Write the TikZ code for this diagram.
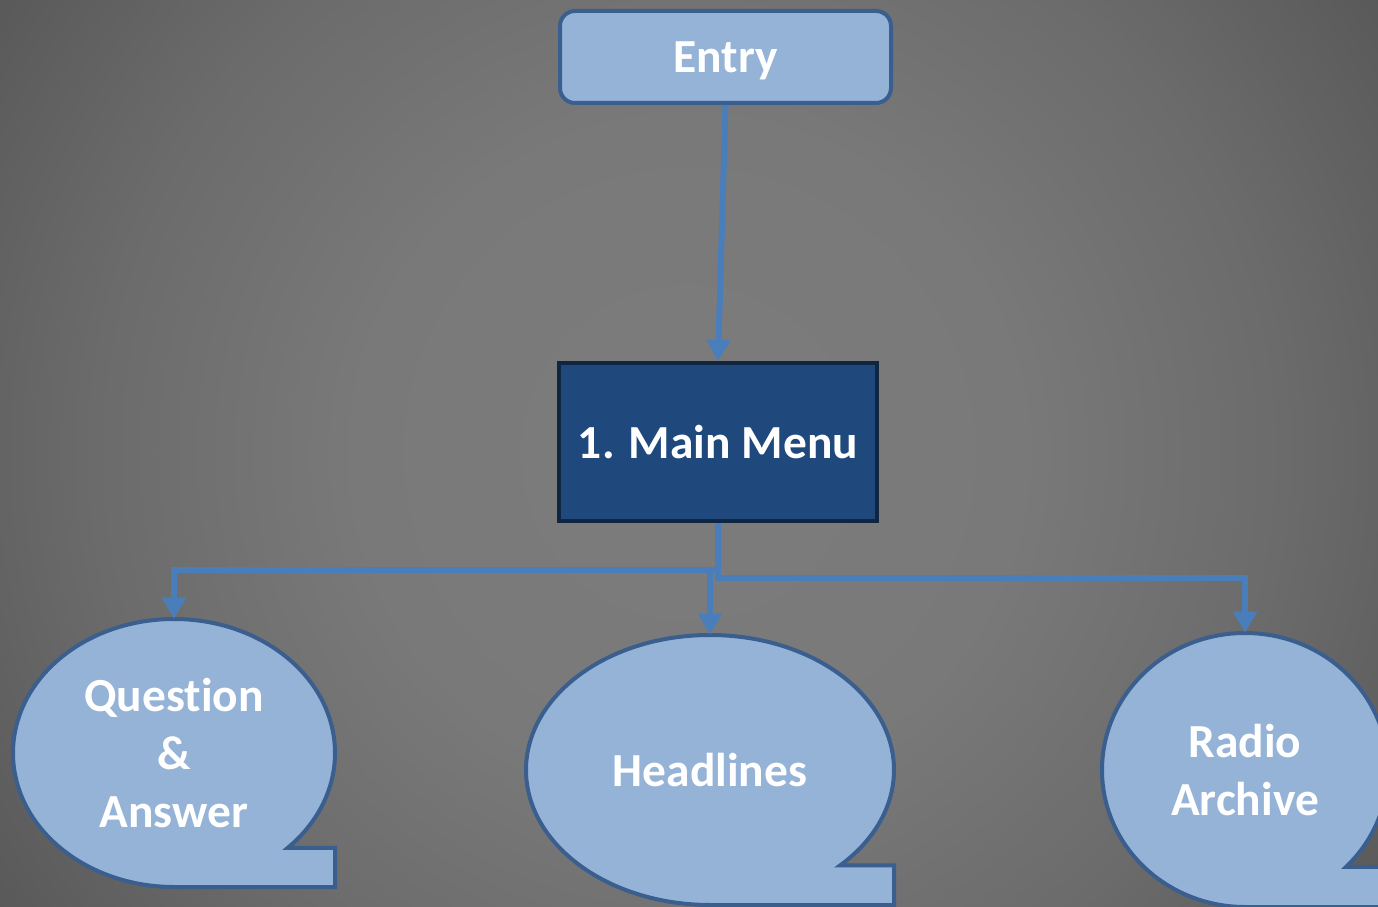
\documentclass[tikz,border=0pt]{standalone}
\usepackage{fontspec}
\setmainfont{Carlito}[Ligatures=NoCommon]
\usepackage{tikz}
\usetikzlibrary{arrows.meta, positioning, shapes.geometric}
\definecolor{paleblue}{HTML}{95B3D7}
\definecolor{edgeblue}{HTML}{3A5F8E}
\definecolor{menublue}{HTML}{1F497D}
\definecolor{menuedge}{HTML}{10253F}
\definecolor{linkblue}{HTML}{4A7EBB}
\pgfdeclareradialshading{backdrop}{\pgfpoint{0bp}{0bp}}{rgb(0bp)=(0.486,0.486,0.486); rgb(10bp)=(0.475,0.475,0.475); rgb(18bp)=(0.42,0.42,0.42); rgb(27bp)=(0.33,0.33,0.33); rgb(32bp)=(0.27,0.27,0.27); rgb(50bp)=(0.27,0.27,0.27)}
\newcommand{\speechbubble}[3]{%
  \filldraw[bubble] (#1) ++(-45:#2 and #3) coordinate (#1-n)
    arc[start angle=-45, end angle=270, x radius=#2, y radius=#3]
    -- ++(#2,0) |- (#1-n) -- cycle;}

\begin{document}
\begin{tikzpicture}[
        bigtext/.style={text=white,font=\fontsize{27}{33}\selectfont\bfseries},
        entrybox/.style={bigtext,draw=edgeblue,fill=paleblue,line width=0.8mm,rounded corners=3mm,minimum width=6.62cm,minimum height=1.84cm,text depth=0pt},
        menubox/.style={bigtext,draw=menuedge,fill=menublue,line width=0.8mm,minimum width=6.36cm,minimum height=3.16cm},
        bubble/.style={draw=edgeblue,fill=paleblue,line width=0.8mm,line join=miter},
        bubbletext/.style={bigtext,ellipse,align=center,inner sep=0pt},
        link/.style={draw=linkblue,line width=1.2mm,line join=miter,-{Triangle[width=4.6mm,length=4.2mm]}}
    ]
    \useasboundingbox (0,0) rectangle (27.56,18.12);
    \begin{scope}
    \clip (0,0) rectangle (27.56,18.12);
    \shade[shading=backdrop] (13.78,9.06) circle (16.5);
    \end{scope}
    \node[entrybox] (entry) at (14.51,16.98) {Entry};
    \node[menubox] (menu) at (14.36,9.28) {1. Main Menu};
    \coordinate (qa-c) at (3.48,3.06);
    \coordinate (news-c) at (14.2,2.72);
    \coordinate (radio-c) at (24.9,2.72);
    \speechbubble{qa-c}{3.22cm}{2.68cm}
    \speechbubble{news-c}{3.68cm}{2.70cm}
    \speechbubble{radio-c}{2.86cm}{2.74cm}
    \node[bubbletext,minimum width=6.44cm,minimum height=5.36cm] (qa) at (qa-c) {Question\\\&\\Answer};
    \node[bubbletext,minimum width=7.36cm,minimum height=5.4cm] (news) at (news-c) {Headlines};
    \node[bubbletext,minimum width=5.72cm,minimum height=5.48cm] (radio) at (radio-c) {Radio\\Archive};
    \draw[link] (entry.south) -- (menu.north);
    \draw[link] (menu.south) -- ++(0,-0.94) -| (qa.north);
    \draw[link] (menu.south) -- ++(0,-0.94) -| (news.north);
    \draw[link] (menu.south) -- ++(0,-1.1) -| (radio.north);
\end{tikzpicture}
\end{document}
